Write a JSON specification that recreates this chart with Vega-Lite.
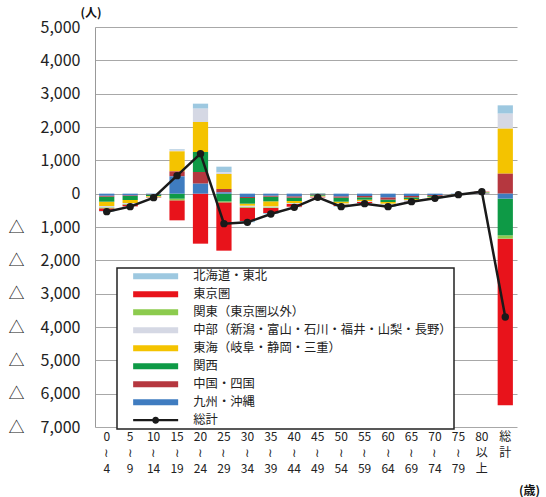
{
  "$schema": "https://vega.github.io/schema/vega-lite/v6.json",
  "width": 422,
  "height": 400,
  "autosize": {"type": "none"},
  "padding": {"left": 95, "top": 27, "right": 29, "bottom": 70},
  "background": "white",
  "config": {"font": "Noto Sans CJK JP", "view": {"stroke": null}},
  "title": {"text": "男性", "fontSize": 24, "fontWeight": "bold", "anchor": "middle", "dx": -31, "offset": 22, "color": "#111"},
  "datasets": {
    "bars": [
      {"age": "0～4", "region": "北海道・東北", "value": -20}, {"age": "0～4", "region": "東京圏", "value": -80}, {"age": "0～4", "region": "関東（東京圏以外）", "value": -30}, {"age": "0～4", "region": "中部（新潟・富山・石川・福井・山梨・長野）", "value": -40}, {"age": "0～4", "region": "東海（岐阜・静岡・三重）", "value": -130}, {"age": "0～4", "region": "関西", "value": -150}, {"age": "0～4", "region": "中国・四国", "value": -30}, {"age": "0～4", "region": "九州・沖縄", "value": -60},
      {"age": "5～9", "region": "北海道・東北", "value": -10}, {"age": "5～9", "region": "東京圏", "value": -50}, {"age": "5～9", "region": "関東（東京圏以外）", "value": -20}, {"age": "5～9", "region": "中部（新潟・富山・石川・福井・山梨・長野）", "value": -30}, {"age": "5～9", "region": "東海（岐阜・静岡・三重）", "value": -90}, {"age": "5～9", "region": "関西", "value": -120}, {"age": "5～9", "region": "中国・四国", "value": -20}, {"age": "5～9", "region": "九州・沖縄", "value": -50},
      {"age": "10～14", "region": "北海道・東北", "value": -5}, {"age": "10～14", "region": "東京圏", "value": -10}, {"age": "10～14", "region": "関東（東京圏以外）", "value": -5}, {"age": "10～14", "region": "中部（新潟・富山・石川・福井・山梨・長野）", "value": -10}, {"age": "10～14", "region": "東海（岐阜・静岡・三重）", "value": -20}, {"age": "10～14", "region": "関西", "value": -40}, {"age": "10～14", "region": "中国・四国", "value": -10}, {"age": "10～14", "region": "九州・沖縄", "value": -20},
      {"age": "15～19", "region": "北海道・東北", "value": 20}, {"age": "15～19", "region": "東京圏", "value": -600}, {"age": "15～19", "region": "関東（東京圏以外）", "value": -50}, {"age": "15～19", "region": "中部（新潟・富山・石川・福井・山梨・長野）", "value": 50}, {"age": "15～19", "region": "東海（岐阜・静岡・三重）", "value": 600}, {"age": "15～19", "region": "関西", "value": -150}, {"age": "15～19", "region": "中国・四国", "value": 150}, {"age": "15～19", "region": "九州・沖縄", "value": 520},
      {"age": "20～24", "region": "北海道・東北", "value": 150}, {"age": "20～24", "region": "東京圏", "value": -1500}, {"age": "20～24", "region": "関東（東京圏以外）", "value": 0}, {"age": "20～24", "region": "中部（新潟・富山・石川・福井・山梨・長野）", "value": 400}, {"age": "20～24", "region": "東海（岐阜・静岡・三重）", "value": 900}, {"age": "20～24", "region": "関西", "value": 600}, {"age": "20～24", "region": "中国・四国", "value": 350}, {"age": "20～24", "region": "九州・沖縄", "value": 300},
      {"age": "25～29", "region": "北海道・東北", "value": 170}, {"age": "25～29", "region": "東京圏", "value": -1450}, {"age": "25～29", "region": "関東（東京圏以外）", "value": -30}, {"age": "25～29", "region": "中部（新潟・富山・石川・福井・山梨・長野）", "value": 50}, {"age": "25～29", "region": "東海（岐阜・静岡・三重）", "value": 450}, {"age": "25～29", "region": "関西", "value": -230}, {"age": "25～29", "region": "中国・四国", "value": 100}, {"age": "25～29", "region": "九州・沖縄", "value": 40},
      {"age": "30～34", "region": "北海道・東北", "value": -40}, {"age": "30～34", "region": "東京圏", "value": -400}, {"age": "30～34", "region": "関東（東京圏以外）", "value": -20}, {"age": "30～34", "region": "中部（新潟・富山・石川・福井・山梨・長野）", "value": -40}, {"age": "30～34", "region": "東海（岐阜・静岡・三重）", "value": -60}, {"age": "30～34", "region": "関西", "value": -170}, {"age": "30～34", "region": "中国・四国", "value": -30}, {"age": "30～34", "region": "九州・沖縄", "value": -100},
      {"age": "35～39", "region": "北海道・東北", "value": -30}, {"age": "35～39", "region": "東京圏", "value": -150}, {"age": "35～39", "region": "関東（東京圏以外）", "value": -20}, {"age": "35～39", "region": "中部（新潟・富山・石川・福井・山梨・長野）", "value": -30}, {"age": "35～39", "region": "東海（岐阜・静岡・三重）", "value": -150}, {"age": "35～39", "region": "関西", "value": -140}, {"age": "35～39", "region": "中国・四国", "value": -30}, {"age": "35～39", "region": "九州・沖縄", "value": -60},
      {"age": "40～44", "region": "北海道・東北", "value": -20}, {"age": "40～44", "region": "東京圏", "value": -80}, {"age": "40～44", "region": "関東（東京圏以外）", "value": -10}, {"age": "40～44", "region": "中部（新潟・富山・石川・福井・山梨・長野）", "value": -20}, {"age": "40～44", "region": "東海（岐阜・静岡・三重）", "value": -60}, {"age": "40～44", "region": "関西", "value": -100}, {"age": "40～44", "region": "中国・四国", "value": -40}, {"age": "40～44", "region": "九州・沖縄", "value": -80},
      {"age": "45～49", "region": "北海道・東北", "value": -10}, {"age": "45～49", "region": "東京圏", "value": -20}, {"age": "45～49", "region": "関東（東京圏以外）", "value": 10}, {"age": "45～49", "region": "中部（新潟・富山・石川・福井・山梨・長野）", "value": -10}, {"age": "45～49", "region": "東海（岐阜・静岡・三重）", "value": -20}, {"age": "45～49", "region": "関西", "value": -30}, {"age": "45～49", "region": "中国・四国", "value": -10}, {"age": "45～49", "region": "九州・沖縄", "value": -20},
      {"age": "50～54", "region": "北海道・東北", "value": -20}, {"age": "50～54", "region": "東京圏", "value": -40}, {"age": "50～54", "region": "関東（東京圏以外）", "value": -10}, {"age": "50～54", "region": "中部（新潟・富山・石川・福井・山梨・長野）", "value": -30}, {"age": "50～54", "region": "東海（岐阜・静岡・三重）", "value": -50}, {"age": "50～54", "region": "関西", "value": -120}, {"age": "50～54", "region": "中国・四国", "value": -40}, {"age": "50～54", "region": "九州・沖縄", "value": -80},
      {"age": "55～59", "region": "北海道・東北", "value": -20}, {"age": "55～59", "region": "東京圏", "value": -30}, {"age": "55～59", "region": "関東（東京圏以外）", "value": -10}, {"age": "55～59", "region": "中部（新潟・富山・石川・福井・山梨・長野）", "value": -20}, {"age": "55～59", "region": "東海（岐阜・静岡・三重）", "value": -40}, {"age": "55～59", "region": "関西", "value": -70}, {"age": "55～59", "region": "中国・四国", "value": -40}, {"age": "55～59", "region": "九州・沖縄", "value": -70},
      {"age": "60～64", "region": "北海道・東北", "value": -20}, {"age": "60～64", "region": "東京圏", "value": -30}, {"age": "60～64", "region": "関東（東京圏以外）", "value": -10}, {"age": "60～64", "region": "中部（新潟・富山・石川・福井・山梨・長野）", "value": -30}, {"age": "60～64", "region": "東海（岐阜・静岡・三重）", "value": -50}, {"age": "60～64", "region": "関西", "value": -70}, {"age": "60～64", "region": "中国・四国", "value": -70}, {"age": "60～64", "region": "九州・沖縄", "value": -110},
      {"age": "65～69", "region": "北海道・東北", "value": -15}, {"age": "65～69", "region": "東京圏", "value": -10}, {"age": "65～69", "region": "関東（東京圏以外）", "value": -5}, {"age": "65～69", "region": "中部（新潟・富山・石川・福井・山梨・長野）", "value": -20}, {"age": "65～69", "region": "東海（岐阜・静岡・三重）", "value": -30}, {"age": "65～69", "region": "関西", "value": -50}, {"age": "65～69", "region": "中国・四国", "value": -40}, {"age": "65～69", "region": "九州・沖縄", "value": -70},
      {"age": "70～74", "region": "北海道・東北", "value": -10}, {"age": "70～74", "region": "東京圏", "value": 0}, {"age": "70～74", "region": "関東（東京圏以外）", "value": -5}, {"age": "70～74", "region": "中部（新潟・富山・石川・福井・山梨・長野）", "value": -10}, {"age": "70～74", "region": "東海（岐阜・静岡・三重）", "value": -20}, {"age": "70～74", "region": "関西", "value": -30}, {"age": "70～74", "region": "中国・四国", "value": -25}, {"age": "70～74", "region": "九州・沖縄", "value": -40},
      {"age": "75～79", "region": "北海道・東北", "value": 0}, {"age": "75～79", "region": "東京圏", "value": 0}, {"age": "75～79", "region": "関東（東京圏以外）", "value": 0}, {"age": "75～79", "region": "中部（新潟・富山・石川・福井・山梨・長野）", "value": -5}, {"age": "75～79", "region": "東海（岐阜・静岡・三重）", "value": -5}, {"age": "75～79", "region": "関西", "value": -5}, {"age": "75～79", "region": "中国・四国", "value": -5}, {"age": "75～79", "region": "九州・沖縄", "value": -10},
      {"age": "80以上", "region": "北海道・東北", "value": 0}, {"age": "80以上", "region": "東京圏", "value": 10}, {"age": "80以上", "region": "関東（東京圏以外）", "value": 5}, {"age": "80以上", "region": "中部（新潟・富山・石川・福井・山梨・長野）", "value": 5}, {"age": "80以上", "region": "東海（岐阜・静岡・三重）", "value": 10}, {"age": "80以上", "region": "関西", "value": 10}, {"age": "80以上", "region": "中国・四国", "value": 10}, {"age": "80以上", "region": "九州・沖縄", "value": 10},
      {"age": "総計", "region": "北海道・東北", "value": 250}, {"age": "総計", "region": "東京圏", "value": -5000}, {"age": "総計", "region": "関東（東京圏以外）", "value": -100}, {"age": "総計", "region": "中部（新潟・富山・石川・福井・山梨・長野）", "value": 450}, {"age": "総計", "region": "東海（岐阜・静岡・三重）", "value": 1350}, {"age": "総計", "region": "関西", "value": -1100}, {"age": "総計", "region": "中国・四国", "value": 600}, {"age": "総計", "region": "九州・沖縄", "value": -150}
    ],
    "total": [
      {"age": "0～4", "region": "総計", "value": -540}, {"age": "5～9", "region": "総計", "value": -390}, {"age": "10～14", "region": "総計", "value": -120}, {"age": "15～19", "region": "総計", "value": 540}, {"age": "20～24", "region": "総計", "value": 1200}, {"age": "25～29", "region": "総計", "value": -900}, {"age": "30～34", "region": "総計", "value": -860}, {"age": "35～39", "region": "総計", "value": -610}, {"age": "40～44", "region": "総計", "value": -410}, {"age": "45～49", "region": "総計", "value": -110}, {"age": "50～54", "region": "総計", "value": -390}, {"age": "55～59", "region": "総計", "value": -300}, {"age": "60～64", "region": "総計", "value": -390}, {"age": "65～69", "region": "総計", "value": -240}, {"age": "70～74", "region": "総計", "value": -140}, {"age": "75～79", "region": "総計", "value": -30}, {"age": "80以上", "region": "総計", "value": 60}, {"age": "総計", "region": "総計", "value": -3700}
    ]
  },
  "encoding": {
    "x": {
      "field": "age", "type": "nominal", "sort": null,
      "scale": {"domain": ["0～4","5～9","10～14","15～19","20～24","25～29","30～34","35～39","40～44","45～49","50～54","55～59","60～64","65～69","70～74","75～79","80以上","総計"], "paddingInner": 0.35, "paddingOuter": 0.175},
      "axis": {
        "title": "(歳)", "titleAngle": 0, "titleX": 434, "titleY": 63, "titleAlign": "center", "titleBaseline": "middle", "titleFontSize": 12, "titleFontWeight": "bold", "titleColor": "#111",
        "domain": false, "ticks": false, "labelAngle": 0, "labelFontSize": 12, "labelLineHeight": 16, "labelPadding": 4, "labelColor": "#222", "labelBaseline": "top",
        "labelExpr": "datum.label == '総計' ? ['総','計'] : datum.label == '80以上' ? ['80','以','上'] : [split(datum.label,'～')[0], '≀', split(datum.label,'～')[1]]"
      }
    },
    "y": {
      "field": "value", "type": "quantitative",
      "scale": {"domain": [-7000, 5000], "nice": false, "zero": false},
      "axis": {
        "title": "(人)", "titleAngle": 0, "titleX": -15, "titleY": -15, "titleAlign": "left", "titleBaseline": "middle", "titleFontSize": 12, "titleFontWeight": "bold", "titleColor": "#111",
        "values": [-7000,-6000,-5000,-4000,-3000,-2000,-1000,0,1000,2000,3000,4000,5000],
        "labelExpr": "datum.value < 0 ? '△　' + format(-datum.value, ',') : format(datum.value, ',')",
        "labelFontSize": 16, "labelColor": "#222", "labelPadding": 15, "ticks": false,
        "grid": true, "gridColor": "#a8a8a8", "gridWidth": 1, "domain": true, "domainColor": "#999999"
      }
    }
  },
  "layer": [
    {
      "data": {"name": "bars"},
      "transform": [
        {"window": [{"op": "row_number", "as": "stackRank"}], "groupby": ["age"]}
      ],
      "mark": {"type": "bar"},
      "encoding": {
        "y": {"field": "value", "type": "quantitative", "stack": "zero"},
        "order": {"field": "stackRank", "type": "quantitative", "sort": "descending"},
        "color": {
          "field": "region", "type": "nominal",
          "scale": {
            "domain": ["北海道・東北","東京圏","関東（東京圏以外）","中部（新潟・富山・石川・福井・山梨・長野）","東海（岐阜・静岡・三重）","関西","中国・四国","九州・沖縄","総計"],
            "range": ["#9DC8E0","#E8131B","#8CCB4E","#D5D8E4","#F4C300","#0E9A46","#B5373F","#3F7CC0","#1a1a1a"]
          },
          "legend": {
            "orient": "none", "legendX": 22, "legendY": 241, "title": null,
            "strokeColor": "#222", "fillColor": "white", "padding": 2,
            "labelFontSize": 12.3, "labelColor": "#222", "labelLimit": 500, "labelOffset": 54,
            "symbolSize": 100, "symbolOffset": 8, "symbolStrokeWidth": 0, "rowPadding": 5,
            "symbolType": "M0,-0.6H9V0.6H0Z",
            "encode": {
              "legend": {"update": {"strokeWidth": {"value": 1.5}}},
              "symbols": {"update": {
                "shape": {"signal": "datum.value === '総計' ? 'M0,-0.22H9V0.22H0Z M4.5,-0.7A0.7,0.7,0,1,1,4.5,0.7A0.7,0.7,0,1,1,4.5,-0.7Z' : 'M0,-0.6H9V0.6H0Z'"},
                "fill": {"signal": "scale('color', datum.value)"},
                "fillOpacity": {"value": 1},
                "opacity": {"value": 1}
              }}
            }
          }
        }
      }
    },
    {
      "data": {"name": "total"},
      "mark": {"type": "line", "strokeWidth": 2.5, "point": {"filled": true, "size": 55}},
      "encoding": {
        "color": {"field": "region", "type": "nominal"}
      }
    }
  ]
}
